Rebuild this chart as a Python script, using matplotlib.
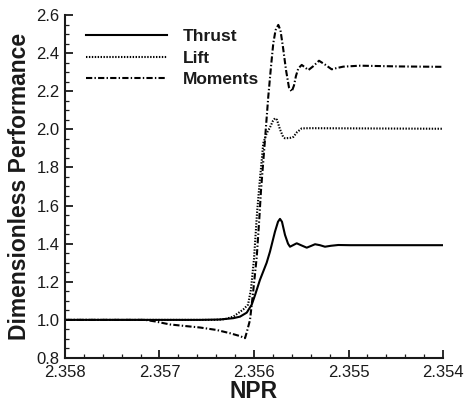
import matplotlib
matplotlib.use("Agg")
import matplotlib.pyplot as plt
from matplotlib.ticker import MultipleLocator, FormatStrFormatter

plt.rcParams['font.family'] = ['Liberation Sans', 'DejaVu Sans']
plt.rcParams['lines.scale_dashes'] = False

# NPR sweep (decreasing) and normalised performance of each quantity
thrust_npr = [2.358, 2.356571, 2.356360, 2.356219, 2.356148, 2.356077, 2.356024,
              2.355989, 2.355937, 2.355866, 2.355831, 2.355778, 2.355746, 2.355725,
              2.355704, 2.355672, 2.355640, 2.355619, 2.355587, 2.355548, 2.355503,
              2.355442, 2.355397, 2.355354, 2.355302, 2.355249, 2.355185, 2.355108,
              2.354984, 2.354]
thrust = [1.0, 1.0, 1.002, 1.009, 1.017, 1.038, 1.08,
          1.13, 1.21, 1.30, 1.358, 1.463, 1.515, 1.530,
          1.515, 1.446, 1.40, 1.384, 1.392, 1.402, 1.392,
          1.379, 1.388, 1.397, 1.392, 1.384, 1.389, 1.393,
          1.392, 1.392]

lift_npr = [2.358, 2.356413, 2.356307, 2.356219, 2.356113, 2.356063, 2.356032,
            2.356000, 2.355968, 2.355937, 2.355918, 2.355902, 2.355866, 2.355831,
            2.355799, 2.355778, 2.355757, 2.355725, 2.355693, 2.355672, 2.355619,
            2.355584, 2.355545, 2.355495, 2.355407, 2.354]
lift = [1.0, 1.0, 1.004, 1.017, 1.055, 1.08, 1.16,
        1.32, 1.56, 1.74, 1.839, 1.927, 1.979, 2.01,
        2.045, 2.058, 2.05, 2.00, 1.962, 1.953, 1.955,
        1.96, 1.985, 2.005, 2.006, 2.003]

moments_npr = [2.358, 2.357153, 2.357048, 2.356889, 2.356712, 2.356571, 2.356395,
               2.356254, 2.356148, 2.356095, 2.356074, 2.356042, 2.356007, 2.355971,
               2.355944, 2.355926, 2.355884, 2.355849, 2.355820, 2.355796, 2.355772,
               2.355743, 2.355720, 2.355693, 2.355661, 2.355630, 2.355601, 2.355577,
               2.355556, 2.355531, 2.355495, 2.355460, 2.355425, 2.355376, 2.355312,
               2.355249, 2.355178, 2.355122, 2.355055, 2.354878, 2.354455, 2.354]
moments = [1.0, 1.0, 0.992, 0.976, 0.967, 0.960, 0.947,
           0.930, 0.915, 0.904, 0.94, 1.0, 1.157, 1.33,
           1.53, 1.68, 1.944, 2.171, 2.33, 2.451, 2.52,
           2.548, 2.52, 2.43, 2.31, 2.22, 2.198, 2.23,
           2.28, 2.32, 2.338, 2.325, 2.311, 2.33, 2.36,
           2.34, 2.315, 2.322, 2.329, 2.334, 2.330, 2.328]

xticks = [2.358, 2.357, 2.356, 2.355, 2.354]
yticks = [0.8, 1.0, 1.2, 1.4, 1.6, 1.8, 2.0, 2.2, 2.4, 2.6]

ink = '#1a1a1a'
fig = plt.figure(figsize=(4.65, 4.05), dpi=100)
ax = fig.add_axes([65 / 465, 47 / 405, 378 / 465, 343 / 405])

ax.plot(thrust_npr, thrust, color='black', lw=1.5, label='Thrust')
ax.plot(lift_npr, lift, color='black', lw=1.5, linestyle=(0, (1.0, 1.1)), label='Lift')
ax.plot(moments_npr, moments, color='black', lw=1.5,
        linestyle=(0, (4.5, 1.6, 1.0, 1.6)), label='Moments')

ax.set_xlim(2.358, 2.354)
ax.set_ylim(0.8, 2.6)
ax.set_xticks(xticks)
ax.set_yticks(yticks)
ax.xaxis.set_minor_locator(MultipleLocator(0.0002))
ax.yaxis.set_minor_locator(MultipleLocator(0.05))
ax.xaxis.set_major_formatter(FormatStrFormatter('%.3f'))
ax.yaxis.set_major_formatter(FormatStrFormatter('%.1f'))

for side in ('top', 'right'):
    ax.spines[side].set_visible(False)
for side in ('left', 'bottom'):
    ax.spines[side].set_linewidth(1.5)
    ax.spines[side].set_color(ink)

ax.tick_params(which='both', direction='in', top=False, right=False, color=ink)
ax.tick_params(which='major', length=6, width=1.3, labelsize=12, labelcolor=ink)
ax.tick_params(axis='x', which='major', pad=5)
ax.tick_params(axis='y', which='major', pad=4)
ax.tick_params(which='minor', length=3, width=0.9)

ax.set_xlabel('NPR', fontsize=16.5, fontweight='bold', color=ink, labelpad=0)
ax.set_ylabel('Dimensionless Performance', fontsize=16.5, fontweight='bold',
              color=ink, labelpad=4)

ax.legend(loc='upper left', bbox_to_anchor=(0.055, 0.96), frameon=False,
          borderaxespad=0, borderpad=0, handlelength=4.7, handletextpad=0.9,
          labelspacing=0.38, prop={'weight': 'bold', 'size': 12.5})
for t in ax.get_legend().get_texts():
    t.set_color(ink)

fig.savefig('out.png', dpi=100)
